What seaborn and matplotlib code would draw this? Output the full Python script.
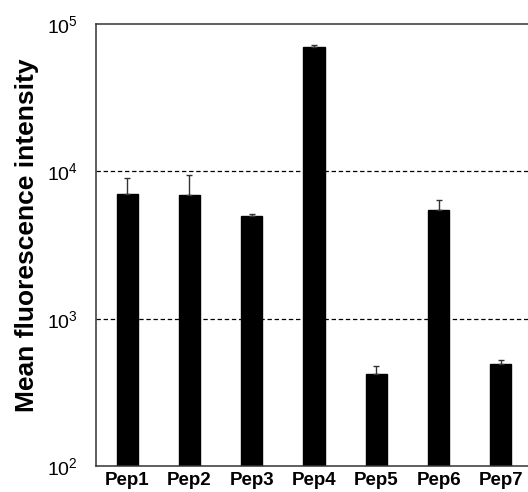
import numpy as np
import pandas as pd
import matplotlib
matplotlib.use('Agg')
import matplotlib.pyplot as plt
import seaborn as sns

# values (log scale)
peptides = ['Pep1', 'Pep2', 'Pep3', 'Pep4', 'Pep5', 'Pep6', 'Pep7']
mean_fi = [7050, 6900, 4940, 69400, 421, 5460, 494]
err_up = [1900, 2500, 180, 2500, 53, 960, 27]

df = pd.DataFrame({'Peptide': peptides, 'MFI': mean_fi})

sns.set_style('white', {'text.color': 'black', 'axes.labelcolor': 'black',
                        'xtick.color': 'black', 'ytick.color': 'black'})
plt.rcParams['font.family'] = ['Liberation Sans', 'DejaVu Sans']

fig = plt.figure(figsize=(5.28, 4.92), dpi=100)
# the original is cropped on the right, so the axes run past the figure edge
ax = fig.add_axes([96 / 528, 26 / 492, 436 / 528, 442 / 492])

ax.set_yscale('log')
sns.barplot(data=df, x='Peptide', y='MFI', color='black', saturation=1,
            width=0.34, edgecolor='black', errorbar=None, ax=ax)

# upward-only error bars
ax.errorbar(np.arange(len(peptides)), mean_fi,
            yerr=[np.zeros(len(err_up)), err_up],
            fmt='none', ecolor='#333333', elinewidth=1.0, capsize=2.5, capthick=1.0)

# dashed reference lines at 10^3 and 10^4
for level in [1e3, 1e4]:
    ax.axhline(level, color='black', lw=0.9, ls=(0, (3.5, 2.2)), zorder=0.5)

ax.set_ylim(1e2, 1e5)
ax.set_xlim(-0.5, 6.5)
ax.set_yticks([1e2, 1e3, 1e4, 1e5])
ax.minorticks_off()
ax.tick_params(axis='y', length=0, pad=13, labelsize=14, labelcolor='black')
ax.tick_params(axis='x', length=0, pad=4, labelsize=13.5, labelcolor='black')
for lab in ax.get_xticklabels():
    lab.set_fontweight('bold')

ax.set_xlabel('')
ax.set_ylabel('Mean fluorescence intensity', fontsize=19, fontweight='bold', color='black')
ax.yaxis.set_label_coords(-0.13, 0.523)

for side in ['left', 'bottom', 'top']:
    ax.spines[side].set_color('#333333')
    ax.spines[side].set_linewidth(1.1)
ax.spines['right'].set_visible(False)

fig.savefig('out.png', dpi=100)
